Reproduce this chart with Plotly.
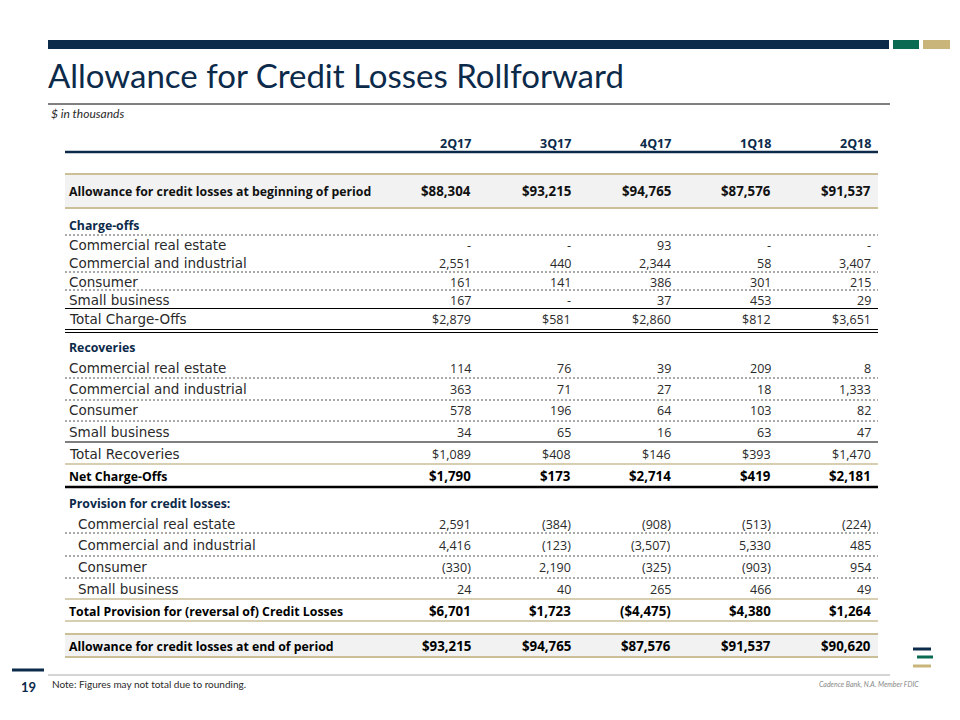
import plotly.graph_objects as go

# ---------------- data ----------------
quarters = ["2Q17", "3Q17", "4Q17", "1Q18", "2Q18"]
beginning = [88304, 93215, 94765, 87576, 91537]
co_cre = [0, 0, 93, 0, 0]
co_ci = [2551, 440, 2344, 58, 3407]
co_cons = [161, 141, 386, 301, 215]
co_sb = [167, 0, 37, 453, 29]
co_total = [2879, 581, 2860, 812, 3651]
rec_cre = [114, 76, 39, 209, 8]
rec_ci = [363, 71, 27, 18, 1333]
rec_cons = [578, 196, 64, 103, 82]
rec_sb = [34, 65, 16, 63, 47]
rec_total = [1089, 408, 146, 393, 1470]
net_co = [1790, 173, 2714, 419, 2181]
prov_cre = [2591, -384, -908, -513, -224]
prov_ci = [4416, -123, -3507, 5330, 485]
prov_cons = [-330, 2190, -325, -903, 954]
prov_sb = [24, 40, 265, 466, 49]
prov_total = [6701, 1723, -4475, 4380, 1264]
ending = [93215, 94765, 87576, 91537, 90620]

title = "Allowance for Credit Losses Rollforward"
subtitle = "$ in thousands"
note = "Note: Figures may not total due to rounding."
page_no = "19"
disclaimer = "Cadence Bank, N.A. Member FDIC"

# ---------------- style ----------------
NAVY = "#0c2a4a"
TEAL = "#0b6b52"
GOLD = "#c9b47a"
GOLD_LINE = "#cbbf98"
TEXT = "#2a2a2a"
BG = "#f2f2f2"
FONT = "Open Sans"
REG_LABEL = "DejaVu Sans"
COND = "Lato, sans-serif"

col_x = [473, 573, 673, 773, 873]
label_x = 67
indent_x = 76
left, right = 65, 878


def fmt(v, dollar=False):
    if v == 0 and not dollar:
        return "-"
    s = f"{abs(v):,}"
    if dollar:
        s = "$" + s
    return f"({s})" if v < 0 else s


# rows: (label, values, y, bold, color, dollar, indent)
rows = [
    ("Allowance for credit losses at beginning of period", beginning, 191, True, "#111111", True, False),
    ("Charge-offs", None, 225, True, NAVY, False, False),
    ("Commercial real estate", co_cre, 245, False, TEXT, False, False),
    ("Commercial and industrial", co_ci, 263, False, TEXT, False, False),
    ("Consumer", co_cons, 282, False, TEXT, False, False),
    ("Small business", co_sb, 300, False, TEXT, False, False),
    ("Total Charge-Offs", co_total, 319, False, TEXT, True, False),
    ("Recoveries", None, 347, True, NAVY, False, False),
    ("Commercial real estate", rec_cre, 368, False, TEXT, False, False),
    ("Commercial and industrial", rec_ci, 389, False, TEXT, False, False),
    ("Consumer", rec_cons, 410, False, TEXT, False, False),
    ("Small business", rec_sb, 432, False, TEXT, False, False),
    ("Total Recoveries", rec_total, 454, False, TEXT, True, False),
    ("Net Charge-Offs", net_co, 476, True, "#000000", True, False),
    ("Provision for credit losses:", None, 503, True, NAVY, False, False),
    ("Commercial real estate", prov_cre, 524, False, TEXT, False, True),
    ("Commercial and industrial", prov_ci, 545, False, TEXT, False, True),
    ("Consumer", prov_cons, 567, False, TEXT, False, True),
    ("Small business", prov_sb, 589, False, TEXT, False, True),
    ("Total Provision for (reversal of) Credit Losses", prov_total, 611, True, "#000000", True, False),
    ("Allowance for credit losses at end of period", ending, 646, True, "#000000", True, False),
]

fig = go.Figure()
ann = []
shapes = []


def hline(y, color, width=1, dash="solid", x0=left, x1=right):
    shapes.append(dict(type="line", xref="x", yref="y", x0=x0, x1=x1, y0=y, y1=y,
                       line=dict(color=color, width=width, dash=dash), layer="above"))


def rect(x0, x1, y0, y1, color):
    shapes.append(dict(type="rect", xref="x", yref="y", x0=x0, x1=x1, y0=y0, y1=y1,
                       fillcolor=color, line=dict(width=0), layer="below"))


def text(x, y, s, size, color, bold=False, anchor="left", family=FONT, italic=False):
    ann.append(dict(x=x, y=y, xref="x", yref="y", text=s, showarrow=False,
                    xanchor=anchor, yanchor="middle",
                    font=dict(family=family, size=size, color=color,
                              weight="bold" if bold else "normal",
                              style="italic" if italic else "normal")))


# header band
rect(48, 889, 40, 49, NAVY)
rect(893, 919, 40, 49, TEAL)
rect(923, 950, 40, 49, GOLD)
text(46, 75, title, 33, NAVY, family=COND)
hline(104, "#000000", 1, x0=48, x1=890)
text(49, 113, subtitle, 12, TEXT, family=COND, italic=True)

# column headers
for q, x in zip(quarters, col_x):
    text(x, 143, q, 12.5, NAVY, bold=True, anchor="right")
hline(152, NAVY, 2.5)

# backgrounds
rect(left, right, 174, 208, BG)
rect(left, right, 634, 657, BG)

# lines
hline(174, GOLD_LINE, 2)
hline(208, GOLD_LINE, 2)
DASH = "2px,2px"
for y in (235, 272, 290, 378, 400, 421, 533, 556, 578):
    hline(y, "#555555", 1, DASH)
hline(308.5, "#000000", 1.2)
hline(329.5, "#000000", 1)
hline(332.5, "#000000", 1)
hline(442, "#000000", 1.2)
hline(464, GOLD_LINE, 1.5)
hline(487, "#000000", 2.5)
hline(599, GOLD_LINE, 1.5)
hline(621, GOLD_LINE, 1.5)
hline(634, GOLD_LINE, 2)
hline(657, GOLD_LINE, 2)

# rows
for label, vals, y, bold, color, dollar, indent in rows:
    if bold:
        text(indent_x if indent else label_x, y, label, 12.3, color, bold=True)
    else:
        text(indent_x if indent else label_x, y, label, 13.5, color, family=REG_LABEL)
    if vals is None:
        continue
    for v, x in zip(vals, col_x):
        text(x, y, fmt(v, dollar), 12.5 if not bold else 13.3, color, bold=bold, anchor="right")

# footer
shapes.append(dict(type="line", xref="x", yref="y", x0=12, x1=44, y0=670, y1=670,
                   line=dict(color=NAVY, width=3)))
text(28, 687, page_no, 13, NAVY, bold=True, anchor="center", family=COND)
hline(675, "#aaaaaa", 1, x0=48, x1=890)
text(50, 684, note, 10, TEXT, family=COND)
text(921, 684, disclaimer, 7, "#888888", anchor="right", family=COND, italic=True)
# small logo bars
for (x0, x1, y, c) in ((913, 931, 649, NAVY), (917, 933, 657, TEAL), (913, 931, 666, GOLD)):
    shapes.append(dict(type="line", xref="x", yref="y", x0=x0, x1=x1, y0=y, y1=y,
                       line=dict(color=c, width=3)))

# the page body has an 8px margin, so the axes are offset to map data units to screen pixels
fig.update_layout(
    width=960, height=720,
    margin=dict(l=0, r=0, t=0, b=0),
    paper_bgcolor="white", plot_bgcolor="white",
    xaxis=dict(range=[8, 968], visible=False, fixedrange=True),
    yaxis=dict(range=[728, 8], visible=False, fixedrange=True),
    shapes=shapes, annotations=ann, showlegend=False,
)
fig.write_html("out.html")
